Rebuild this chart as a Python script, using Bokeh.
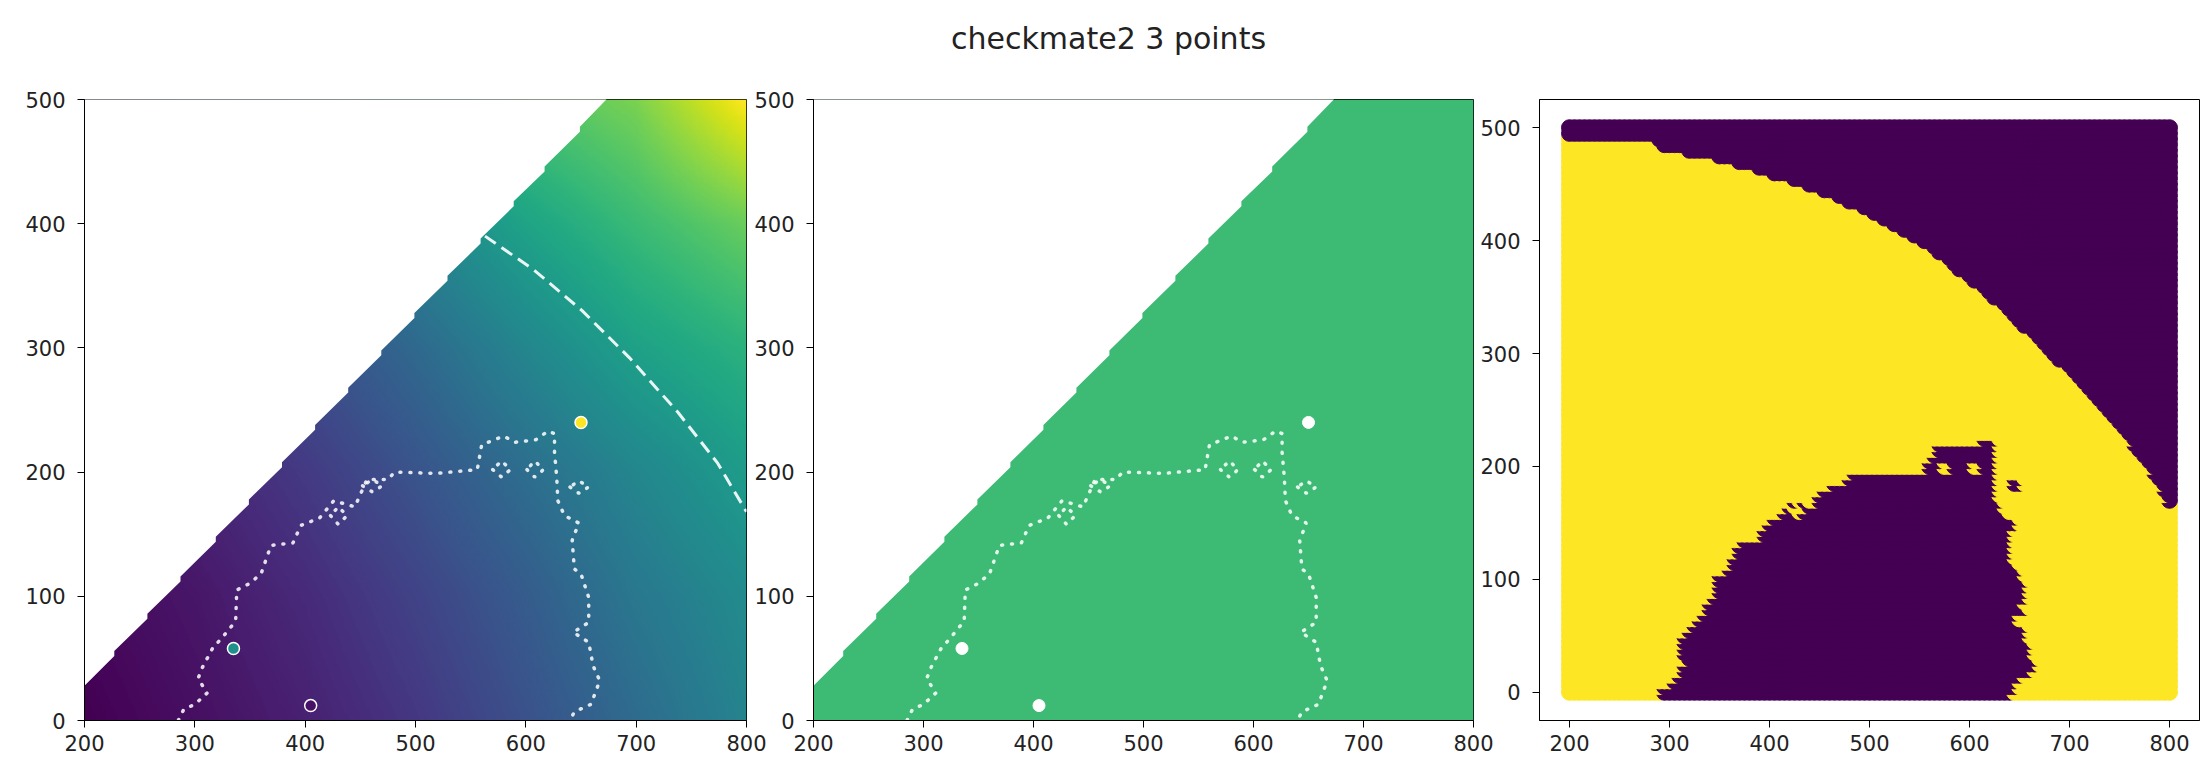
import numpy as np
from bokeh.plotting import figure
from bokeh.layouts import row, column
from bokeh.models import Range1d, FixedTicker, LinearColorMapper, ColumnDataSource
from bokeh.core.properties import value
from bokeh.palettes import Viridis256
from bokeh.embed import file_html
from bokeh.resources import INLINE

# ---------------- data ----------------
title_text = "checkmate2 3 points"
x_lim = [200, 800]
y_lim = [0, 500]
x_ticks = [200, 300, 400, 500, 600, 700, 800]
y_ticks = [0, 100, 200, 300, 400, 500]

# colour-scale value of the interpolated surface, sampled every 100 units
field_x = [200, 300, 400, 500, 600, 700, 800]
field_y = [0, 100, 200, 300, 400, 500]
field_vals = [
    [0.00, 0.04, 0.09, 0.16, 0.25, 0.35, 0.45],
    [0.02, 0.06, 0.12, 0.20, 0.29, 0.40, 0.48],
    [0.05, 0.10, 0.17, 0.26, 0.36, 0.46, 0.55],
    [0.09, 0.15, 0.24, 0.34, 0.46, 0.57, 0.64],
    [0.14, 0.22, 0.33, 0.45, 0.58, 0.68, 0.77],
    [0.20, 0.32, 0.45, 0.60, 0.72, 0.80, 1.00],
]

# upper-left edge of the valid region (stepped diagonal)
edge_x = [200, 227, 227, 257, 257, 287, 287, 319, 319, 349, 349, 379, 379, 409, 409,
          439, 439, 469, 469, 499, 499, 529, 529, 559, 559, 589, 589, 617, 617, 649, 649, 673]
edge_y = [28, 52, 56, 82, 86, 112, 116, 144, 148, 174, 178, 204, 208, 234, 238,
          264, 268, 294, 298, 324, 328, 354, 358, 384, 388, 414, 418, 442, 446, 474, 478, 500]

# dotted exclusion contour
contour_x = [285, 290, 300, 311, 303, 307, 316, 325, 337, 338, 349, 360, 369, 389, 396, 413,
             426, 445, 456, 475, 481, 519, 556, 560, 580, 590, 609, 620, 626, 626, 628, 629,
             635, 648, 642, 644, 650, 657, 657, 643, 657, 661, 667, 659, 644, 640]
contour_y = [0, 9, 13, 22, 34, 43, 58, 67, 80, 105, 110, 118, 141, 143, 157, 163,
             177, 172, 194, 194, 200, 199, 202, 222, 229, 224, 226, 233, 231, 216, 196, 177,
             165, 159, 145, 122, 118, 99, 79, 71, 63, 44, 32, 13, 7, 0]
# small closed contours: holes inside the excluded area and one isolated island
hole_xs = [[570, 578, 586, 578, 570], [601, 608, 616, 608, 601],
           [452, 461, 470, 461, 452], [423, 430, 438, 430, 423]]
hole_ys = [[202, 196, 202, 209, 202], [202, 196, 202, 209, 202],
           [189, 184, 189, 194, 189], [165, 158, 165, 172, 165]]
island_xs = [[640, 648, 657, 648, 640]]
island_ys = [[188, 183, 188, 193, 188]]

# dashed contour of the surface
dash_x = [563, 607, 651, 694, 738, 774, 800]
dash_y = [390, 363, 330, 292, 248, 207, 168]

# the three signal points and their colour-scale values
pt_x = [335, 405, 650]
pt_y = [58, 12, 240]
pt_val = [0.50, 0.05, 1.00]

# outer boundary of the allowed band on the classification grid
arc_x = [150, 194, 288, 292, 319, 350, 372, 403, 421, 461, 502, 524, 551, 573, 595,
         622, 648, 680, 711, 733, 755, 778, 791, 800, 850]
arc_y = [485, 485, 483, 478, 473, 468, 462, 453, 448, 435, 419, 407, 394, 381, 364,
         345, 323, 297, 269, 248, 226, 196, 177, 162, 150]
grid_step = 5

PURPLE = "#440154"
YELLOW = "#fde725"
GREEN = "#3dba74"
FONT = "DejaVu Sans"
INK = "#222222"


def inside(px, py, vx, vy):
    vx = np.asarray(vx, float)
    vy = np.asarray(vy, float)
    res = np.zeros(px.shape, bool)
    j = len(vx) - 1
    for i in range(len(vx)):
        xi, yi, xj, yj = vx[i], vy[i], vx[j], vy[j]
        cross = (yi > py) != (yj > py)
        xint = (xj - xi) * (py - yi) / ((yj - yi) if yj != yi else 1e-12) + xi
        res ^= cross & (px < xint)
        j = i
    return res


def covered(px, py, vx, vy):
    # markers are drawn row by row (y, then x increasing) and later markers
    # overlap earlier ones, so the visible edge sits on different sides
    return inside(px - 8, py - 7, vx, vy) & inside(px - 1, py + 4, vx, vy)


def make_fig(xr, yr, width, bl, br):
    p = figure(width=width, height=702, x_range=Range1d(*xr), y_range=Range1d(*yr),
               output_backend="svg", toolbar_location=None,
               min_border_left=bl, min_border_right=br,
               min_border_top=39, min_border_bottom=42)
    p.grid.visible = False
    p.outline_line_color = "black"
    p.outline_line_width = 1
    p.border_fill_alpha = 0
    for ax in (p.xaxis[0], p.yaxis[0]):
        ax.major_label_text_font = FONT
        ax.major_label_text_font_size = "21px"
        ax.major_label_text_color = INK
        ax.minor_tick_line_color = None
        ax.major_tick_in = 0
        ax.major_tick_out = 7
        ax.axis_line_color = "black"
        ax.major_tick_line_color = "black"
    p.xaxis.ticker = FixedTicker(ticks=x_ticks)
    p.yaxis.ticker = FixedTicker(ticks=y_ticks)
    p.xaxis.major_label_standoff = 7
    p.yaxis.major_label_standoff = 12
    return p


mapper = LinearColorMapper(palette=Viridis256, low=0, high=1)

# mask polygon above the stepped diagonal
mask_x = edge_x + [edge_x[-1], 180, 180]
mask_y = edge_y + [520, 520, edge_y[0]]

contour_xs = [contour_x] + hole_xs + island_xs
contour_ys = [contour_y] + hole_ys + island_ys

# ---------------- figure title ----------------
pt = figure(width=2201, height=60, x_range=Range1d(0, 2201), y_range=Range1d(0, 60),
            output_backend="svg", toolbar_location=None,
            x_axis_type=None, y_axis_type=None,
            min_border_left=0, min_border_right=0, min_border_top=0, min_border_bottom=0)
pt.outline_line_color = None
pt.grid.visible = False
pt.text(x=[1108], y=[22], text=[title_text], text_align="center",
        text_baseline="alphabetic", text_font=value(FONT),
        text_font_size=value("30px"), text_color=INK)

# ---------------- panel 1: surface ----------------
p1 = make_fig(x_lim, y_lim, 771, 84, 25)
fx = np.asarray(field_x, float)
fy = np.asarray(field_y, float)
fv = np.asarray(field_vals, float)
cx = np.linspace(x_lim[0], x_lim[1], 300)
cy = np.linspace(y_lim[0], y_lim[1], 250)
rows = np.array([np.interp(cx, fx, r) for r in fv])
img = np.array([np.interp(cy, fy, rows[:, k]) for k in range(len(cx))]).T
p1.image(image=[img.astype(np.float32)], x=x_lim[0], y=y_lim[0],
         dw=x_lim[1] - x_lim[0], dh=y_lim[1] - y_lim[0], color_mapper=mapper)
p1.patch(mask_x, mask_y, fill_color="white", line_color=None)
p1.multi_line(contour_xs, contour_ys, line_color="white", line_alpha=0.85,
              line_width=3.5, line_dash="1 9", line_cap="round")
p1.line(dash_x, dash_y, line_color="white", line_alpha=0.9, line_width=3,
        line_dash="13 7")
pts = ColumnDataSource(dict(x=pt_x, y=pt_y, v=pt_val))
p1.scatter("x", "y", source=pts, size=12,
           fill_color={"field": "v", "transform": mapper},
           line_color="white", line_width=1.5)

# ---------------- panel 2: flat surface ----------------
p2 = make_fig(x_lim, y_lim, 752, 67, 25)
p2.margin = (0, 0, 0, -25)
p2.quad(left=[x_lim[0]], right=[x_lim[1]], bottom=[y_lim[0]], top=[y_lim[1]],
        fill_color=GREEN, line_color=None)
p2.patch(mask_x, mask_y, fill_color="white", line_color=None)
p2.multi_line(contour_xs, contour_ys, line_color="white", line_alpha=0.85,
              line_width=3.5, line_dash="1 9", line_cap="round")
p2.scatter(pt_x, pt_y, size=12, fill_color="white", line_color="white")

# ---------------- panel 3: grid classification ----------------
p3 = make_fig([170, 830], [-25, 525], 728, 66, 2)
p3.margin = (0, 0, 0, -25)
gx = np.arange(x_lim[0], x_lim[1] + 1, grid_step)
gy = np.arange(y_lim[0], y_lim[1] + 1, grid_step)
GX, GY = np.meshgrid(gx, gy)
GX = GX.ravel().astype(float)
GY = GY.ravel().astype(float)
blob_x = contour_x + [contour_x[-1], contour_x[0]]
blob_y = contour_y + [-20, -20]
out_x = arc_x + [850, 150]
out_y = arc_y + [600, 600]
excluded = covered(GX, GY, blob_x, blob_y)
# small holes and islands only hold a few grid points: test them directly
for hx, hy in zip(hole_xs, hole_ys):
    excluded &= ~inside(GX, GY, hx, hy)
for ix, iy in zip(island_xs, island_ys):
    excluded |= inside(GX, GY, ix, iy)
# the outer band edge is crossed from below, so only the row overlap matters
excluded |= inside(GX, GY - 7, out_x, out_y)
cols = np.where(excluded, PURPLE, YELLOW)
p3.scatter(GX, GY, size=16, fill_color=cols, line_color=cols, line_width=1)

layout = column(pt, row(p1, p2, p3, spacing=0), spacing=0)
html = file_html(layout, INLINE, title=title_text)
html = html.replace("<body>", '<body style="margin:0">')
open("out.html", "w").write(html)
